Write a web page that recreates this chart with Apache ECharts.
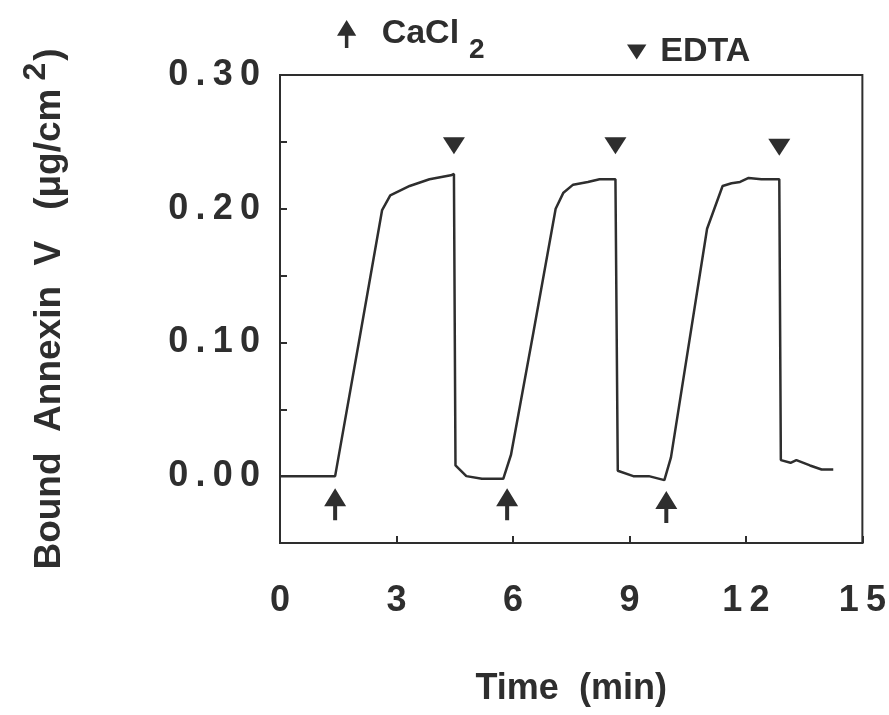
<!DOCTYPE html>
<html lang="en">
<head>
    <meta charset="UTF-8">
    <title>Annexin V binding</title>
    <script type="text/javascript" src="https://cdn.jsdelivr.net/npm/echarts@6/dist/echarts.min.js"></script>
    <style>
        html, body { margin: 0; padding: 0; background: #fff; }
        #main { width: 889px; height: 715px; }
    </style>
</head>
<body>
<div id="main"></div>
<script type="text/javascript">
    // time (min) and bound annexin V (ug/cm2)
    var time = [0, 1.42, 2.03, 2.63, 2.84, 3.34, 3.85, 4.4, 4.48, 4.52, 4.8, 5.2, 5.75,
        5.95, 6.53, 7.1, 7.3, 7.55, 7.93, 8.23, 8.64, 8.7, 9.1, 9.5, 9.9,
        10.07, 11.0, 11.4, 11.63, 11.85, 12.07, 12.4, 12.86, 12.9, 13.15, 13.3, 13.65, 13.95, 14.25];
    var bound = [0, 0, 0.1, 0.199, 0.21, 0.217, 0.222, 0.225, 0.226, 0.008, 0.0, -0.002, -0.002,
        0.016, 0.108, 0.2, 0.212, 0.218, 0.22, 0.222, 0.222, 0.004, 0.0, 0.0, -0.003,
        0.014, 0.185, 0.217, 0.219, 0.22, 0.223, 0.222, 0.222, 0.012, 0.01, 0.012, 0.008, 0.005, 0.005];

    // additions: CaCl2 (up arrows under the trace), EDTA (triangles above)
    var cacl2Time = [1.42, 5.85, 9.95];
    var cacl2Mark = [-0.021, -0.021, -0.023];
    var edtaTime = [4.48, 8.64, 12.86];
    var edtaMark = [0.247, 0.247, 0.246];

    var yTicks = [0.00, 0.10, 0.20, 0.30];
    var xTicks = [0, 3, 6, 9, 12, 15];

    var ink = '#2e2e2e';
    var font = '"Liberation Sans", Arial, sans-serif';
    var arrowPath = 'path://M11,0 L22,18 L13,18 L13,32 L9,32 L9,18 L0,18 Z';
    var triPath = 'path://M0,0 L22,0 L11,17 Z';

    function spaced(s) {
        return String(s).split('').join('\u2009');
    }

    function zip(a, b) {
        return a.map(function (v, i) { return [v, b[i]]; });
    }

    const myChart = echarts.init(document.getElementById('main'));
    myChart.setOption({
        animation: false,
        backgroundColor: '#fff',
        textStyle: { fontFamily: font },
        legend: [{
            data: [{ name: 'CaCl2', icon: arrowPath }],
            left: 332, top: 12,
            itemWidth: 20, itemHeight: 28,
            formatter: function () { return '{a|CaCl}{s|2}'; },
            textStyle: {
                rich: {
                    a: { fontSize: 34, fontWeight: 'bold', color: ink, fontFamily: font, padding: [0, 0, 0, 20] },
                    s: { fontSize: 28, fontWeight: 'bold', color: ink, fontFamily: font, padding: [32, 0, 0, 10] }
                }
            }
        }, {
            data: [{ name: 'EDTA', icon: triPath }],
            left: 622, top: 30,
            itemWidth: 21, itemHeight: 15,
            formatter: function () { return '{a|EDTA}'; },
            textStyle: {
                rich: {
                    a: { fontSize: 34, fontWeight: 'bold', color: ink, fontFamily: font, padding: [0, 0, 0, 8] }
                }
            }
        }],
        grid: {
            left: 280, right: 19, top: 75, bottom: 172,
            show: true, borderColor: ink, borderWidth: 2
        },
        xAxis: {
            type: 'value',
            min: 0, max: 15, interval: 3,
            name: 'Time  (min)',
            nameLocation: 'middle',
            nameGap: 128,
            nameTextStyle: { fontSize: 36, fontWeight: 'bold', color: ink, fontFamily: font },
            axisLine: { onZero: false, lineStyle: { color: ink, width: 2 } },
            axisTick: { inside: true, length: 7, lineStyle: { color: ink, width: 2 } },
            axisLabel: {
                margin: 40, fontSize: 36, fontWeight: 'bold', color: ink, fontFamily: font,
                formatter: function (v) { return xTicks.indexOf(v) >= 0 ? spaced(v) : ''; }
            },
            splitLine: { show: false }
        },
        yAxis: {
            type: 'value',
            min: -0.05, max: 0.30, interval: 0.05,
            name: '{a|Bound  Annexin  V   (\u03bcg/cm}{s|2}{a|)}',
            nameLocation: 'middle',
            nameRotate: 90,
            nameGap: 200,
            nameTextStyle: {
                rich: {
                    a: { fontSize: 37, fontWeight: 'bold', color: ink, fontFamily: font },
                    s: { fontSize: 32, fontWeight: 'bold', color: ink, fontFamily: font, padding: [0, 2, 28, 8] }
                }
            },
            axisLine: { lineStyle: { color: ink, width: 2 } },
            axisTick: { inside: true, length: 7, lineStyle: { color: ink, width: 2 } },
            axisLabel: {
                margin: 20, fontSize: 36, fontWeight: 'bold', color: ink, fontFamily: font,
                formatter: function (v) {
                    var r = Math.round(v * 100) / 100;
                    for (var i = 0; i < yTicks.length; i++) {
                        if (Math.abs(yTicks[i] - r) < 1e-6) return spaced(r.toFixed(2));
                    }
                    return '';
                }
            },
            splitLine: { show: false }
        },
        series: [{
            name: 'Bound',
            type: 'line',
            data: zip(time, bound),
            showSymbol: false,
            symbol: 'none',
            lineStyle: { color: ink, width: 2.5 },
            z: 3
        }, {
            name: 'CaCl2',
            type: 'scatter',
            data: zip(cacl2Time, cacl2Mark),
            symbol: arrowPath,
            symbolSize: [22, 32],
            itemStyle: { color: ink, opacity: 1 }
        }, {
            name: 'EDTA',
            type: 'scatter',
            data: zip(edtaTime, edtaMark),
            symbol: triPath,
            symbolSize: [22, 17],
            itemStyle: { color: ink, opacity: 1 }
        }]
    });
</script>
</body>
</html>
